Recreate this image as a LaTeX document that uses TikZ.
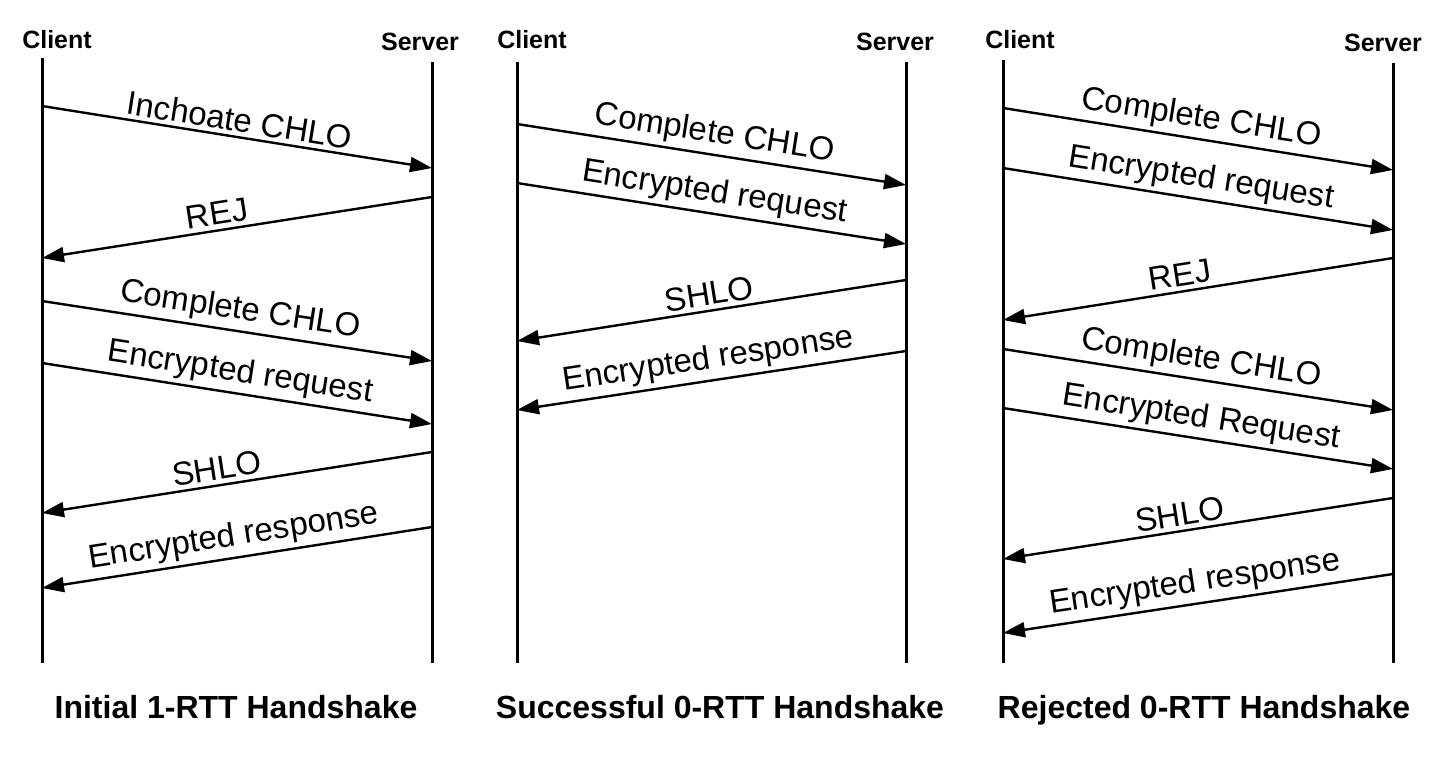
\documentclass[tikz,border=0pt]{standalone}
\usepackage{fontspec}
\setmainfont{Liberation Sans}
\usetikzlibrary{arrows.meta}
\tikzset{
  life/.style={line width=1.5pt,black},
  msg/.style={line width=1.2pt,black,-{Triangle[length=11pt,width=7.5pt]}},
  lbl/.style={midway,above,sloped,inner sep=2pt,font=\fontsize{16.5}{19}\selectfont},
  head/.style={anchor=base,font=\fontsize{12.5}{14}\selectfont\bfseries},
  caption/.style={anchor=base,font=\fontsize{16}{19}\selectfont\bfseries},
}
\begin{document}
\begin{tikzpicture}[x=0.5pt,y=-0.5pt]
  \useasboundingbox (0,0) rectangle (1440,762);
  % Lifelines
  \coordinate (C1) at (42,58);   \coordinate (S1) at (432,62);
  \coordinate (C2) at (517,62);  \coordinate (S2) at (906,62);
  \coordinate (C3) at (1003,60); \coordinate (S3) at (1393,63);
  \foreach \p in {C1,S1,C2,S2,C3,S3}
    \draw[life] (\p) -- (\p |- 0,663);
  % Headers
  \node[head] (hc1) at (57,48) {Client};
  \node[head] (hs1) at (420,50) {Server};
  \node[head] (hc2) at (532,48) {Client};
  \node[head] (hs2) at (895,50) {Server};
  \node[head] (hc3) at (1020,48) {Client};
  \node[head] (hs3) at (1383,51) {Server};
  % Initial 1-RTT
  \draw[msg] (C1 |- 0,106) -- node[lbl] {Inchoate CHLO} (S1 |- 0,168);
  \draw[msg] (S1 |- 0,197) -- node[lbl,pos=0.545] {REJ} (C1 |- 0,258);
  \draw[msg] (C1 |- 0,301) -- node[lbl] {Complete CHLO} (S1 |- 0,361);
  \draw[msg] (C1 |- 0,363) -- node[lbl] {Encrypted request} (S1 |- 0,424);
  \draw[msg] (S1 |- 0,452) -- node[lbl,pos=0.545] {SHLO} (C1 |- 0,513);
  \draw[msg] (S1 |- 0,527) -- node[lbl] {Encrypted response} (C1 |- 0,588);
  % Successful 0-RTT
  \draw[msg] (C2 |- 0,124) -- node[lbl] {Complete CHLO} (S2 |- 0,185);
  \draw[msg] (C2 |- 0,183) -- node[lbl] {Encrypted request} (S2 |- 0,244);
  \draw[msg] (S2 |- 0,280) -- node[lbl] {SHLO} (C2 |- 0,341);
  \draw[msg] (S2 |- 0,351) -- node[lbl] {Encrypted response} (C2 |- 0,410);
  % Rejected 0-RTT
  \draw[msg] (C3 |- 0,108) -- node[lbl] {Complete CHLO} (S3 |- 0,170);
  \draw[msg] (C3 |- 0,168) -- node[lbl] {Encrypted request} (S3 |- 0,230);
  \draw[msg] (S3 |- 0,258) -- node[lbl,pos=0.54] {REJ} (C3 |- 0,320);
  \draw[msg] (C3 |- 0,349) -- node[lbl] {Complete CHLO} (S3 |- 0,410);
  \draw[msg] (C3 |- 0,408) -- node[lbl] {Encrypted Request} (S3 |- 0,469);
  \draw[msg] (S3 |- 0,498) -- node[lbl,pos=0.54] {SHLO} (C3 |- 0,559);
  \draw[msg] (S3 |- 0,574) -- node[lbl] {Encrypted response} (C3 |- 0,633);
  % Captions
  \node[caption] (t1) at (236,718) {Initial 1-RTT Handshake};
  \node[caption] (t2) at (720,718) {Successful 0-RTT Handshake};
  \node[caption] (t3) at (1204,718) {Rejected 0-RTT Handshake};
\end{tikzpicture}
\end{document}
